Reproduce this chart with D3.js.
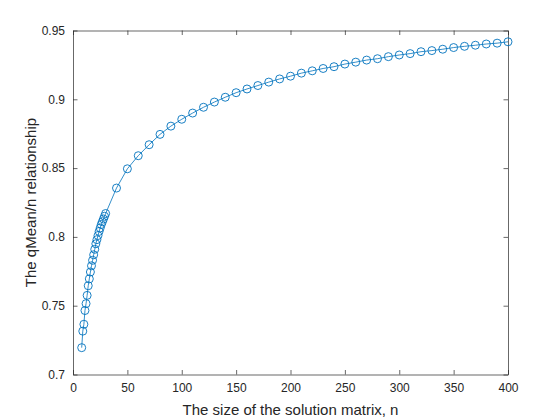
<!DOCTYPE html>
<html><head><meta charset="utf-8">
<script src="https://cdn.jsdelivr.net/npm/d3@7"></script>
<style>body{margin:0;background:#fff}svg{display:block}text{font-family:"Liberation Sans",Arial,sans-serif;fill:#262626}</style>
</head><body><svg id="c" width="560" height="420"></svg>
<script>
const nValues = [8,9,10,11,12,13,14,15,16,17,18,19,20,21,22,23,24,25,26,27,28,29,30,
  40,50,60,70,80,90,100,110,120,130,140,150,160,170,180,190,200,210,220,230,240,250,260,270,280,290,300,310,320,330,340,350,360,370,380,390,400];
const ratioValues = [0.7195,0.7315,0.7365,0.7465,0.7515,0.7575,0.7645,0.7695,0.7745,0.7790,0.7830,0.7870,0.7910,0.7950,0.7980,0.8010,0.8040,0.8065,0.8090,0.8110,0.8130,0.8150,0.8170,
  0.8355,0.8495,0.8590,0.8670,0.8745,0.8805,0.8855,0.8900,0.8942,0.8980,0.9015,0.9048,0.9075,0.9100,0.9125,0.9148,0.9168,0.9190,0.9207,0.9224,0.9237,0.9256,0.9270,0.9285,0.9295,0.9310,0.9322,0.9332,0.9346,0.9354,0.9364,0.9376,0.9385,0.9393,0.9402,0.9408,0.9418];
const xTicks = [0,50,100,150,200,250,300,350,400];
const yTicks = [0.7,0.75,0.8,0.85,0.9,0.95];
const xLabel = "The size of the solution matrix, n";
const yLabel = "The qMean/n relationship";

const L=73, R=508, T=30.5, B=374.5;
const svg=d3.select("#c");
const x=d3.scaleLinear().domain([0,400]).range([L,R]);
const y=d3.scaleLinear().domain([0.7,0.95]).range([B,T]);
const axisColor="#262626";
function style(g){g.selectAll("path,line").attr("stroke",axisColor).attr("stroke-width",0.7);g.selectAll("text").attr("fill",axisColor).style("font-size","12px");}
const fmt=d=>String(d);
svg.append("g").attr("transform",`translate(0,${B})`).call(d3.axisBottom(x).tickValues(xTicks).tickFormat(fmt).tickSizeInner(-4.5).tickSizeOuter(0).tickPadding(8.5)).call(style);
svg.append("g").attr("transform",`translate(0,${T})`).call(d3.axisTop(x).tickValues(xTicks).tickFormat("").tickSizeInner(-4.5).tickSizeOuter(0)).call(style);
svg.append("g").attr("transform",`translate(${L},0)`).call(d3.axisLeft(y).tickValues(yTicks).tickFormat(fmt).tickSizeInner(-4.5).tickSizeOuter(0).tickPadding(8)).call(style);
svg.append("g").attr("transform",`translate(${R},0)`).call(d3.axisRight(y).tickValues(yTicks).tickFormat("").tickSizeInner(-4.5).tickSizeOuter(0)).call(style);

const data=nValues.map((n,i)=>({n,v:ratioValues[i]}));
const col="#0072BD";
svg.append("path").datum(data).attr("fill","none").attr("stroke",col).attr("stroke-width",0.8)
  .attr("d",d3.line().x(d=>x(d.n)).y(d=>y(d.v)));
svg.append("g").selectAll("circle").data(data).join("circle")
  .attr("cx",d=>x(d.n)).attr("cy",d=>y(d.v)).attr("r",4).attr("fill","none").attr("stroke",col).attr("stroke-width",0.9);

svg.append("text").attr("x",(L+R)/2).attr("y",415).attr("text-anchor","middle").style("font-size","15px").text(xLabel);
svg.append("text").attr("transform",`translate(35.5,${(T+B)/2}) rotate(-90)`).attr("text-anchor","middle").style("font-size","15px").text(yLabel);
</script></body></html>
